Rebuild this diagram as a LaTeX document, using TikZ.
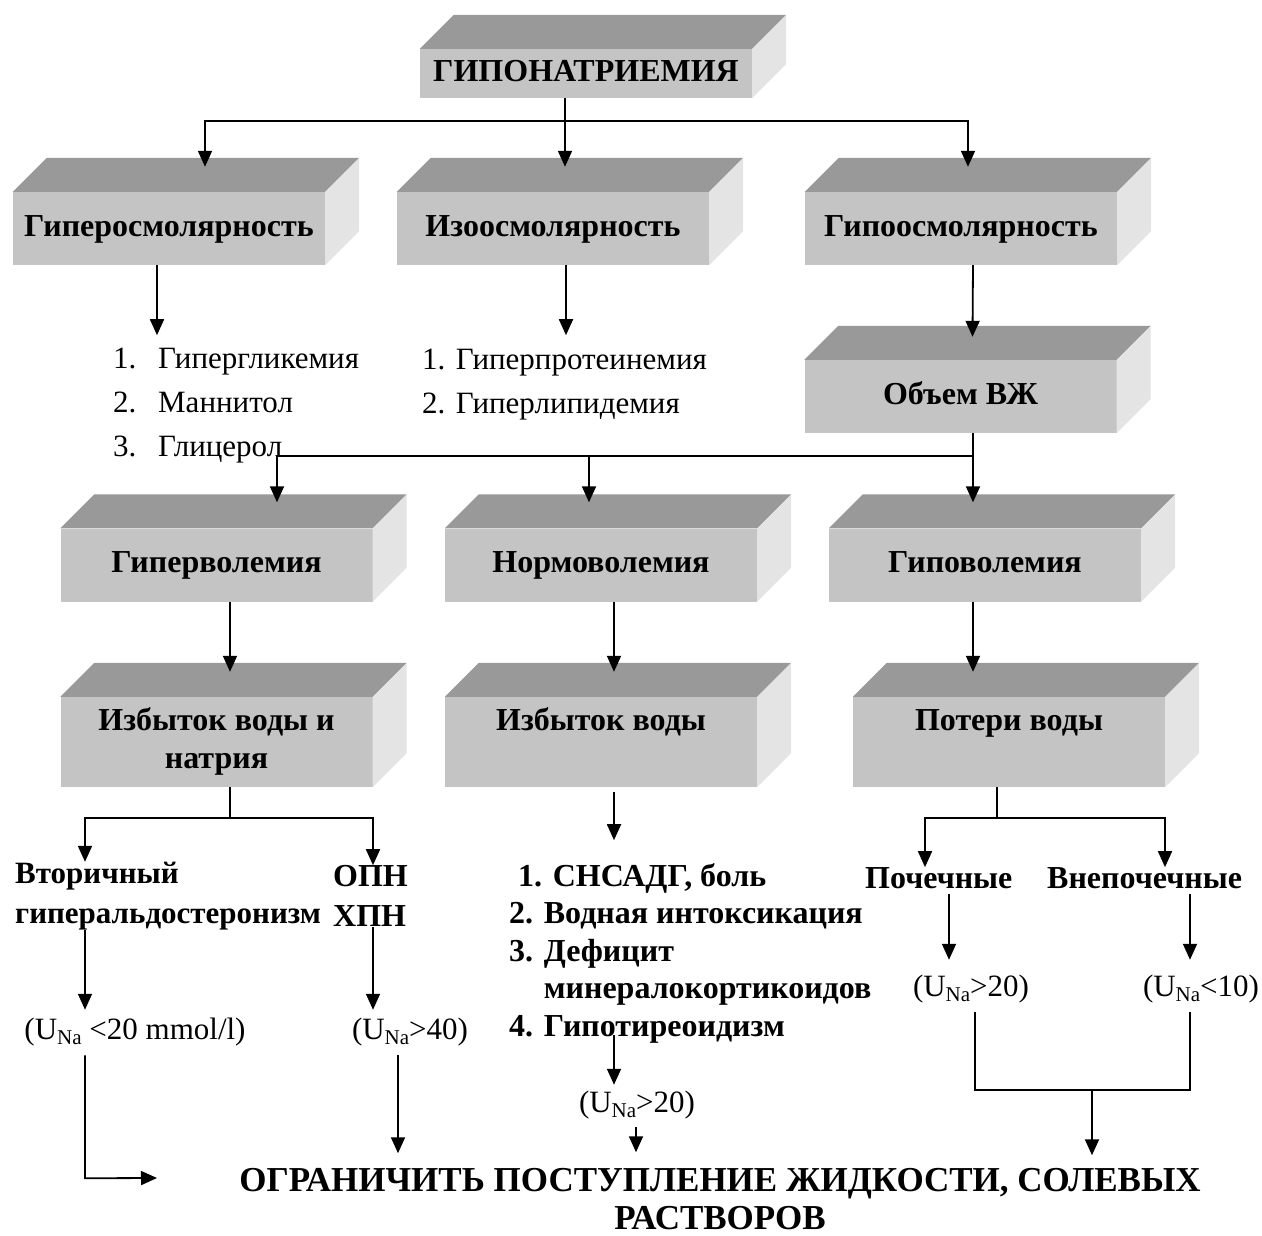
\documentclass[tikz,border=0pt]{standalone}
\usepackage{fontspec}
\setmainfont{Liberation Serif}
\usetikzlibrary{arrows.meta}
\definecolor{slabfront}{HTML}{C4C4C4}
\definecolor{slabtop}{HTML}{999999}
\definecolor{slabside}{HTML}{E4E4E4}
\tikzset{
	slab/.style={fill=slabfront,inner sep=0pt,minimum width=312pt,minimum height=73pt,align=center,font=\fontsize{32}{38}\selectfont\bfseries},
	wire/.style={line width=1.8pt},
	arr/.style={wire,-{Triangle[width=14pt,length=16pt]}},
	lst/.style={inner sep=0pt,align=left,font=\fontsize{31}{44}\selectfont},
	blst/.style={inner sep=0pt,align=left,font=\fontsize{32}{40}\selectfont\bfseries},
	una/.style={inner sep=0pt,font=\fontsize{31}{34}\selectfont}}
\newcommand\slabfaces[1]{%
	\fill[slabtop] (#1.north west) -- ++(34,-34) -- ([shift={(34,-34)}]#1.north east) -- (#1.north east) -- cycle;
	\fill[slabside] (#1.north east) -- ++(34,-34) -- ([shift={(34,-34)}]#1.south east) -- (#1.south east) -- cycle;}
\newcommand\subNa{\raisebox{-.35ex}{\fontsize{21}{21}\selectfont Na}}

\begin{document}
\begin{tikzpicture}[x=1pt,y=-1pt]
	\useasboundingbox (0,0) rectangle (1262,1236);
	\node[slab,minimum width=332pt,minimum height=49pt] (hypoNa) at (586,73.5) {\strut ГИПОНАТРИЕМИЯ};
	\node[slab] (hyperosm) at (169,228.5) {\strut Гиперосмолярность};
	\node[slab] (isoosm) at (553,228.5) {\strut Изоосмолярность};
	\node[slab] (hypoosm) at (961,228.5) {\strut Гипоосмолярность};
	\node[slab] (volume) at (960.5,396.5) {\strut Объем ВЖ};
	\node[slab] (hypervol) at (216.5,565) {\strut Гиперволемия};
	\node[slab] (normovol) at (601,565) {\strut Нормоволемия};
	\node[slab] (hypovol) at (985,565) {\strut Гиповолемия};
	\node[slab,minimum height=90pt] (excessNa) at (216.5,742) {\strut Избыток воды и\\\strut натрия};
	\node[slab,minimum height=90pt] (excessW) at (601,742) {\strut Избыток воды\\\strut};
	\node[slab,minimum height=90pt] (loss) at (1009,742) {\strut Потери воды\\\strut};
	\slabfaces{hypoNa}
	\slabfaces{hyperosm}
	\slabfaces{isoosm}
	\slabfaces{hypoosm}
	\slabfaces{volume}
	\slabfaces{hypervol}
	\slabfaces{normovol}
	\slabfaces{hypovol}
	\slabfaces{excessNa}
	\slabfaces{excessW}
	\slabfaces{loss}
	%
	\node[lst,anchor=west] (glist) at (113,406) {\makebox[45pt][l]{1.}Гипергликемия\\\makebox[45pt][l]{2.}Маннитол\\\makebox[45pt][l]{3.}Глицерол};
	\node[lst,anchor=west] (plist) at (422,385) {1. Гиперпротеинемия\\2. Гиперлипидемия};
	\node[blst,anchor=west,font=\fontsize{31}{40}\selectfont\bfseries] (secald) at (15,896) {Вторичный\\гиперальдостеронизм};
	\node[blst,anchor=west] (renfail) at (333,896) {ОПН\\ХПН};
	\node[blst,anchor=west,font=\fontsize{32}{37.5}\selectfont\bfseries] (mlist) at (509,953) {\hspace*{9pt}1. СНСАДГ, боль\\2. Водная интоксикация\\3. Дефицит\\\phantom{3. }минералокортикоидов\\4. Гипотиреоидизм};
	\node[blst,anchor=west] (renal) at (865,878) {Почечные};
	\node[blst,anchor=west] (extrarenal) at (1047,878) {Внепочечные};
	\node[una] (unaA) at (135,1032) {(U\subNa{} <20 mmol/l)};
	\node[una] (unaB) at (410,1032) {(U\subNa{}>40)};
	\node[una] (unaC) at (637,1105) {(U\subNa{}>20)};
	\node[una] (unaD) at (971,989) {(U\subNa{}>20)};
	\node[una] (unaE) at (1201,989) {(U\subNa{}<10)};
	\node[align=center,inner sep=0pt,font=\fontsize{35}{38}\selectfont\bfseries] (restrict) at (720,1199) {ОГРАНИЧИТЬ ПОСТУПЛЕНИЕ ЖИДКОСТИ, СОЛЕВЫХ\\РАСТВОРОВ};
	\coordinate (toRestrict) at (157,1178);
	%
	\draw[arr] ([xshift=-21pt]hypoNa.south) -- ([shift={(12,-25)}]isoosm.north);
	\draw[arr] ([xshift=-21pt]hypoNa.south) ++(0,23) -| ([shift={(36,-25)}]hyperosm.north);
	\draw[arr] ([xshift=-21pt]hypoNa.south) ++(0,23) -| ([shift={(7,-25)}]hypoosm.north);
	\draw[arr] ([xshift=-12pt]hyperosm.south) -- ++(0,70);
	\draw[arr] ([xshift=13pt]isoosm.south) -- ++(0,70);
	\draw[arr] ([xshift=12pt]hypoosm.south) -- ([shift={(12,-23)}]volume.north);
	%
	\draw[arr] ([xshift=12.5pt]volume.south) -- ([shift={(-12,-26)}]hypovol.north);
	\draw[arr] ([xshift=12.5pt]volume.south) ++(0,23) -| ([shift={(60.5,-26)}]hypervol.north);
	\draw[arr] ([xshift=12.5pt]volume.south) ++(0,23) -| ([shift={(-12,-26)}]normovol.north);
	\draw[arr] ([xshift=13.5pt]hypervol.south) -- ([shift={(13.5,-25)}]excessNa.north);
	\draw[arr] ([xshift=13pt]normovol.south) -- ([shift={(13,-25)}]excessW.north);
	\draw[arr] ([xshift=-12pt]hypovol.south) -- ([shift={(-36,-25)}]loss.north);
	%
	\draw[arr] ([xshift=13.5pt]excessNa.south) -- ++(0,31) -| ([xshift=70pt]secald.north west);
	\draw[arr] ([xshift=13.5pt]excessNa.south) ++(0,31) -| ([xshift=40pt]renfail.north west);
	\draw[arr] ([xshift=70pt]secald.south west) -- ([shift={(-50,-8)}]unaA.north);
	\draw[arr] ([xshift=40pt]renfail.south west) -- ([shift={(-37,-8)}]unaB.north);
	\draw[arr] ([shift={(-50,9)}]unaA.south) -- ++(0,123) -- (toRestrict);
	\draw[arr] ([shift={(-12,9)}]unaB.south) -- ++(0,98);
	%
	\draw[arr] ([shift={(13,5)}]excessW.south) -- ++(0,48);
	\draw[arr] ([shift={(105,-8)}]mlist.south west) -- ([shift={(-23,-6)}]unaC.north);
	\draw[arr] ([shift={(-1,8)}]unaC.south) -- ++(0,25);
	%
	\draw[arr] ([xshift=-12pt]loss.south) -- ++(0,31) -| ([xshift=60pt]renal.north west);
	\draw[arr] ([xshift=-12pt]loss.south) ++(0,31) -| ([xshift=118pt]extrarenal.north west);
	\draw[arr] ([shift={(84,5)}]renal.south west) -- ([shift={(-22,-15)}]unaD.north);
	\draw[arr] ([shift={(143,5)}]extrarenal.south west) -- ([shift={(-11,-15)}]unaE.north);
	\draw[wire] ([shift={(4,9)}]unaD.south) -- ++(0,78) -| ([shift={(-11,9)}]unaE.south);
	\draw[arr] ([shift={(121,87)}]unaD.south) -- ++(0,65);
\end{tikzpicture}
\end{document}
